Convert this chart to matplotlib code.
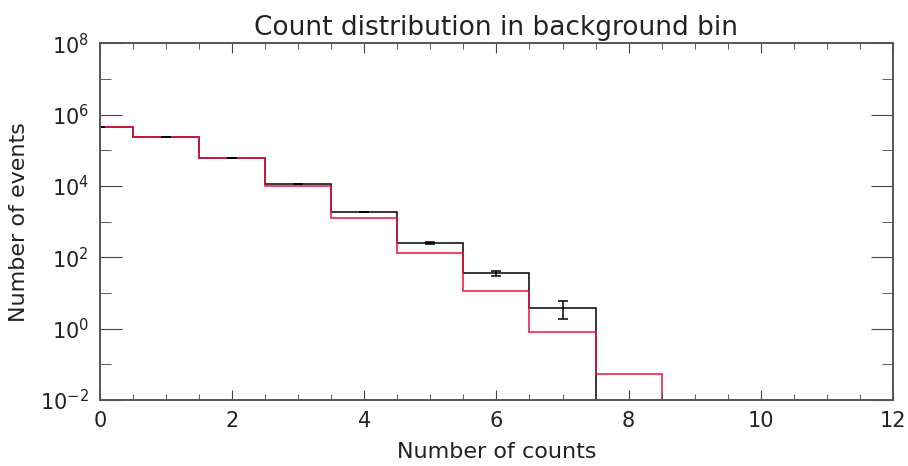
import numpy as np
import matplotlib
matplotlib.use("Agg")
import matplotlib.pyplot as plt
from matplotlib.ticker import MultipleLocator, LogLocator, NullFormatter

# observed counts per bin (black) and model (red)
counts = [0, 1, 2, 3, 4, 5, 6, 7]
observed = [4.6e5, 2.3e5, 6.0e4, 1.16e4, 1.88e3, 256, 35.6, 3.87]
obs_err = [680, 480, 245, 108, 43, 16, 6, 1.97]
model_counts = [0, 1, 2, 3, 4, 5, 6, 7, 8]
model = [4.6e5, 2.3e5, 6.0e4, 1.0e4, 1.27e3, 129, 11.4, 0.79, 0.052]

fig = plt.figure(figsize=(9.08, 4.66), dpi=100)
ax = fig.add_axes([0.110, 0.1416, 0.8735, 0.7654])

edges = np.arange(len(observed) + 1) - 0.5
medges = np.arange(len(model) + 1) - 0.5
ax.stairs(observed, edges, baseline=1e-3, color='black', lw=1.1)
ax.stairs(model, medges, baseline=1e-3, color='#ee1040', lw=1.1)
ax.errorbar(counts, observed, yerr=obs_err, fmt='none', ecolor='black',
            elinewidth=1.1, capsize=3.5, capthick=1.1)

ax.set_yscale('log')
ax.set_xlim(0, 12)
ax.set_ylim(1e-2, 1e8)

ax.xaxis.set_major_locator(MultipleLocator(2))
ax.xaxis.set_minor_locator(MultipleLocator(0.5))
ax.yaxis.set_major_locator(LogLocator(base=100.0, numticks=10))
ax.yaxis.set_minor_locator(LogLocator(base=10.0, numticks=20))
ax.yaxis.set_minor_formatter(NullFormatter())

ax.tick_params(which='both', direction='in', top=True, right=True,
               color='#444444', labelsize=15, pad=8, labelcolor='#222222')
ax.tick_params(axis='x', which='major', length=7)
ax.tick_params(axis='x', which='minor', length=4)
ax.tick_params(axis='y', which='major', length=16)
ax.tick_params(axis='y', which='minor', length=8)
for s in ax.spines.values():
    s.set_color('#555555')
    s.set_linewidth(1.4)

ax.set_xlabel('Number of counts', fontsize=16, labelpad=8, color='#222222')
ax.set_ylabel('Number of events', fontsize=16, labelpad=8, color='#222222')
ax.set_title('Count distribution in background bin', fontsize=19, pad=6,
             color='#222222')

fig.savefig('out.png', dpi=100)
